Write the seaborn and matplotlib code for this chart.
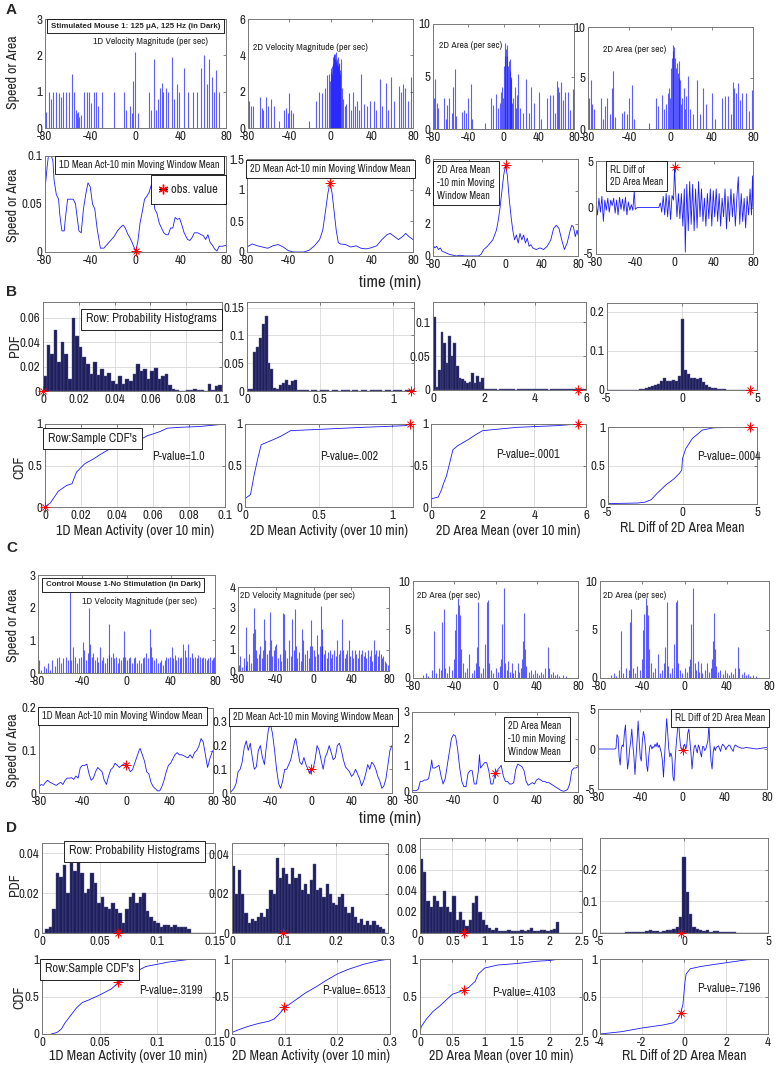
import numpy as np
import pandas as pd
import matplotlib
matplotlib.use('Agg')
import matplotlib.pyplot as plt
from matplotlib import font_manager
from matplotlib.lines import Line2D
from matplotlib.ticker import FormatStrFormatter
import seaborn as sns

W, H = 776, 1066
BLUE = '#1a1aff'
NAVY = '#1f1f5e'

# ---------------- data ----------------
# panel A, per-second traces: (time min, value)
a_vel1 = [(-79, 0.45), (-76.5, 1.0), (-75, 0.8), (-72.5, 1.0), (-70, 1.0), (-67.5, 0.95), (-65.5, 0.85),
          (-64, 1.0), (-61, 1.0), (-59, 1.0), (-56.5, 1.5), (-54.5, 1.0), (-53, 0.5), (-52, 0.4), (-51, 0.45),
          (-50, 0.3), (-48.5, 0.35), (-45.5, 1.0), (-43, 1.0), (-41, 1.0), (-39, 0.7), (-37, 1.0), (-34.5, 1.0),
          (-33, 0.6), (-30, 1.0), (-19, 1.0), (-10, 1.0), (-8, 0.5), (-5, 0.6), (-3, 0.4), (-2.3, 1.3),
          (-0.3, 2.1), (2, 0.4), (11.5, 1.0), (13.5, 0.5), (16, 1.9), (18, 0.5), (20, 0.8), (21.8, 1.1),
          (23.2, 1.25), (24.7, 1.0), (27, 1.1), (29, 1.0), (32, 1.95), (34, 0.8), (36.4, 1.2), (38.8, 1.0),
          (43.2, 1.65), (46.7, 1.0), (50.5, 1.0), (54, 1.0), (57.5, 1.65), (60.4, 2.0), (62.8, 1.2),
          (64.8, 1.9), (67.2, 1.4), (69.2, 1.0), (71.6, 1.6), (74, 1.0)]
a_vel2 = [(-79, 1.5), (-77.5, 1.2), (-75, 1.2), (-68, 1.7), (-66.5, 1.1), (-65, 1.0), (-63, 1.7), (-61, 1.2),
          (-58, 1.6), (-55, 1.2), (-50, 0.4), (-45, 1.0), (-43, 1.1), (-41.5, 0.8), (-40, 1.9), (-38, 1.0),
          (-36, 0.8), (-21, 0.4), (-14, 1.5), (-11, 2.0), (-8, 1.9), (-5, 2.2), (-3, 2.9), (-1, 3.0),
          (-0.5, 2.6), (0, 3.3), (0.5, 3.1), (1, 3.0), (1.5, 3.4), (2, 3.6), (2.5, 3.9), (3, 4.1), (3.5, 4.0),
          (4, 3.8), (4.5, 4.1), (5, 4.2), (5.5, 3.7), (6, 3.5), (6.5, 3.8), (7, 3.9), (7.5, 3.4), (8, 3.6),
          (8.5, 3.5), (9, 3.2), (9.5, 3.0), (10, 3.8), (11, 2.2), (12, 1.6), (14, 1.2), (15, 1.3), (18, 1.9),
          (20, 1.0), (22, 2.0), (24, 1.2), (26, 1.5), (28, 1.0), (30, 3.0), (32, 1.3), (35, 1.2), (38, 1.5),
          (42, 1.5), (44, 1.0), (48, 2.7), (50, 1.2), (54, 2.5), (56, 1.0), (59, 2.8), (62, 1.5), (66, 2.3),
          (68, 2.0), (70, 2.4), (72, 2.2), (75, 1.5), (78, 2.8)]
a_area = [(-79, 3.0), (-77.5, 4.8), (-76, 2.5), (-74, 2.0), (-67, 3.0), (-65, 1.0), (-64, 2.3), (-62, 3.0),
          (-59, 1.5), (-57, 4.0), (-55.4, 5.7), (-54, 1.2), (-47, 1.6), (-45, 1.8), (-42, 1.5), (-40, 3.0),
          (-37, 4.3), (-35.5, 1.0), (-21, 0.6), (-14, 3.0), (-12, 2.3), (-8, 3.3), (-6, 2.0), (-4, 2.5),
          (-2.5, 3.5), (-1.5, 4.0), (-0.5, 3.0), (0.5, 6.0), (1.2, 7.0), (2, 8.2), (2.8, 7.6), (3.5, 8.0),
          (4.5, 7.0), (5.2, 6.0), (6, 6.5), (7, 5.5), (7.8, 6.7), (8.5, 5.0), (9, 4.8), (10, 2.5), (11, 3.0),
          (12.8, 4.0), (14.5, 2.0), (15.5, 3.2), (16.6, 5.2), (18.5, 2.0), (22, 1.5), (26, 4.8), (28.5, 1.5),
          (31.7, 4.0), (34.5, 2.5), (40, 3.5), (43, 1.0), (49.5, 3.0), (52.5, 3.2), (56, 3.2), (59, 1.5),
          (60.4, 4.6), (62, 4.0), (63.5, 3.5), (65.8, 4.5), (67.5, 2.8), (69.5, 3.5), (73, 3.5), (76, 1.8),
          (79, 3.8)]

# panel A, 10 min moving window means
a_mean1 = [(-80, 0.065), (-78, 0.09), (-77, 0.1), (-75, 0.102), (-73, 0.095), (-72, 0.075), (-70, 0.06),
           (-68, 0.055), (-67, 0.04), (-66, 0.03), (-65, 0.022), (-63, 0.022), (-62, 0.035), (-60, 0.055),
           (-57, 0.055), (-55, 0.055), (-53, 0.05), (-52, 0.04), (-50, 0.022), (-48, 0.02), (-46, 0.045),
           (-44, 0.06), (-42, 0.072), (-40, 0.068), (-38, 0.05), (-36, 0.045), (-34, 0.025), (-31, 0.004),
           (-28, 0.004), (-25, 0.008), (-22, 0.012), (-19, 0.016), (-16, 0.022), (-13, 0.026), (-11, 0.028),
           (-9, 0.025), (-7, 0.019), (-5, 0.015), (-3, 0.01), (-1, 0.004), (0, 0.001), (2, 0.01), (4, 0.03),
           (6, 0.042), (8, 0.055), (10, 0.058), (12, 0.062), (14, 0.07), (15, 0.068), (17, 0.045), (19, 0.04),
           (21, 0.03), (23, 0.025), (25, 0.02), (27, 0.018), (29, 0.018), (31, 0.025), (33, 0.025), (35, 0.036),
           (37, 0.034), (39, 0.035), (41, 0.028), (43, 0.02), (46, 0.013), (48, 0.012), (50, 0.015), (52, 0.02),
           (55, 0.02), (58, 0.018), (60, 0.017), (62, 0.013), (64, 0.018), (66, 0.01), (68, 0.007), (70, 0.003),
           (72, 0.001), (74, 0.006), (77, 0.006), (80, 0.007)]
a_mean2 = [(-80, 0.08), (-75, 0.13), (-70, 0.1), (-65, 0.08), (-60, 0.06), (-55, 0.1), (-50, 0.12), (-45, 0.08),
           (-40, 0.02), (-35, 0.0), (-30, 0.0), (-25, 0.0), (-20, 0.03), (-15, 0.1), (-10, 0.2), (-7, 0.35),
           (-4, 0.7), (-2, 0.95), (0, 1.12), (2, 0.95), (4, 0.65), (6, 0.35), (8, 0.15), (10, 0.13), (15, 0.12),
           (20, 0.08), (25, 0.1), (30, 0.06), (35, 0.05), (40, 0.07), (45, 0.1), (50, 0.2), (55, 0.28),
           (58, 0.3), (62, 0.25), (66, 0.2), (70, 0.25), (73, 0.3), (76, 0.25), (80, 0.2)]
a_mean_area = [(-80, 0.7), (-78, 0.5), (-76, 0.6), (-74, 0.4), (-72, 0.5), (-70, 0.3), (-66, 0.2), (-62, 0.1),
               (-58, 0.05), (-54, 0.0), (-50, 0.05), (-45, 0.0), (-40, 0.0), (-35, 0.0), (-30, 0.0), (-27, 0.1),
               (-24, 0.4), (-20, 0.6), (-17, 0.8), (-14, 1.0), (-12, 1.3), (-10, 1.6), (-8, 2.2), (-6, 3.0),
               (-4, 4.0), (-2, 5.0), (0, 5.6), (2, 5.0), (4, 3.6), (6, 2.5), (8, 1.6), (10, 1.0), (12, 1.3),
               (14, 0.8), (16, 1.4), (18, 1.0), (20, 1.3), (22, 0.8), (24, 1.1), (26, 0.6), (28, 0.7), (30, 0.5),
               (34, 0.4), (38, 0.5), (42, 0.4), (46, 0.6), (50, 1.0), (53, 1.7), (56, 1.9), (59, 1.7), (62, 1.0),
               (65, 0.4), (68, 0.8), (71, 1.5), (73, 1.9), (75, 1.8), (77, 1.2), (79, 1.6), (80, 1.3)]
a_rldiff = [(-80, 0.5), (-78.5, -0.8), (-77, 1.0), (-75.5, -0.5), (-74, 1.2), (-72.5, -1.5), (-71, 0.8),
            (-69.5, -0.3), (-68, 1.0), (-66.5, -0.5), (-65, 0.8), (-63.5, 0.2), (-62, 1.0), (-60.5, -0.6),
            (-59, 0.8), (-57.5, -0.8), (-56, 1.1), (-54.5, -0.2), (-53, 0.9), (-51.5, -0.4), (-50, 1.1),
            (-48.5, -0.8), (-47, 0.6), (-45.5, -0.3), (-44, 0.3), (-42.5, -0.3), (-41, 1.8), (-40, -0.2),
            (-38, 0.0), (-16, 0.0), (-14.5, 0.5), (-13, -0.5), (-11.5, 1.2), (-10, -0.8), (-8.5, 1.5), (-7, -1.0),
            (-5.5, 1.3), (-4, -1.3), (-2.5, 1.3), (-1, 0.8), (0, 4.3), (1, 2.0), (2.5, -1.0), (4, 1.5),
            (5.5, -1.2), (7, 1.5), (8.5, -2.0), (10, 2.0), (11, -4.8), (12.5, 2.5), (14, -2.5), (15.5, 2.8),
            (17, -1.8), (18.5, 2.5), (20, -2.5), (21.5, 2.0), (23, -2.2), (24.5, 2.8), (26, -1.0), (27.5, 2.0),
            (29, -1.5), (30.5, 1.0), (32, -2.0), (33.5, 1.5), (35, -1.2), (36.5, 2.0), (38, -2.0), (39.5, 1.8),
            (41, -1.0), (42.5, 2.0), (44, -1.5), (45.5, 1.5), (47, -2.0), (48.5, 1.0), (50, -1.0), (51.5, 2.0),
            (53, -2.3), (54.5, 1.2), (56, -1.5), (57.5, 2.0), (59, -1.0), (60.5, 1.5), (62, -2.0), (63.5, 1.0),
            (65, 3.3), (66.5, -1.8), (68, 1.5), (69.5, -1.5), (71, 1.0), (72.5, -2.2), (74, 1.2), (75.5, -0.8),
            (77, 2.0), (78.5, -0.8), (79.5, 3.4), (80, 0.0)]
a_obs = [(0, 0.001), (0, 1.12), (0, 5.6), (0, 4.4)]

# panel B, probability histograms (bin heights)
b_hist1 = [0.012, 0.038, 0.030, 0.050, 0.024, 0.040, 0.030, 0.010, 0.060, 0.045,
           0.036, 0.028, 0.022, 0.014, 0.024, 0.013, 0.018, 0.012, 0.015, 0.008,
           0.006, 0.012, 0.006, 0.010, 0.008, 0.014, 0.022, 0.016, 0.018, 0.010,
           0.016, 0.019, 0.010, 0.012, 0.014, 0.005, 0.002, 0.001, 0.000, 0.000,
           0.001, 0.001, 0.002, 0.001, 0.001, 0.000, 0.006, 0.001, 0.004, 0.005]
b_hist2 = [0.003, 0.003, 0.07, 0.08, 0.095, 0.12, 0.135, 0.05, 0.04, 0.005,
           0.004, 0.01, 0.015, 0.02, 0.01, 0.018, 0.02, 0.002, 0.001, 0.001,
           0.001, 0.0, 0.001, 0.001, 0.0, 0.001, 0.001, 0.001, 0.0, 0.001,
           0.001, 0.0, 0.001, 0.001, 0.001, 0.0, 0.001, 0.001, 0.0, 0.001,
           0.001, 0.0, 0.001, 0.001, 0.001, 0.001, 0.0, 0.001, 0.001, 0.0,
           0.001, 0.001, 0.001, 0.0, 0.001, 0.001, 0.001]
b_hist3 = [0.108, 0.005, 0.03, 0.085, 0.07, 0.04, 0.08, 0.05, 0.07, 0.035,
           0.018, 0.016, 0.014, 0.01, 0.012, 0.025, 0.01, 0.02, 0.012, 0.017,
           0.002, 0.001, 0.001, 0.001, 0.001, 0.0, 0.001, 0.001, 0.001, 0.001,
           0.001, 0.001, 0.0, 0.001, 0.001, 0.001, 0.001, 0.001, 0.002, 0.002,
           0.002, 0.001, 0.001, 0.001, 0.001, 0.0, 0.001, 0.001, 0.001, 0.001,
           0.001, 0.001, 0.002, 0.002, 0.001, 0.001, 0.001, 0.001, 0.001, 0.001]
b_hist4 = [0.001, 0.001, 0.001, 0.001, 0.001, 0.001, 0.001, 0.001, 0.001, 0.001,
           0.001, 0.002, 0.002, 0.004, 0.008, 0.01, 0.012, 0.016, 0.022, 0.03,
           0.024, 0.022, 0.026, 0.024, 0.036, 0.18, 0.05, 0.04, 0.03, 0.03,
           0.028, 0.03, 0.02, 0.014, 0.008, 0.005, 0.004, 0.003, 0.002, 0.002,
           0.001, 0.001, 0.001, 0.001, 0.001, 0.001, 0.001, 0.001, 0.0, 0.0, 0.0]
# panel B, sample CDFs: (x, F)
b_cdf1 = [(0, 0.0), (0.003, 0.05), (0.0074, 0.19), (0.012, 0.26), (0.015, 0.28), (0.0175, 0.42), (0.022, 0.52),
          (0.027, 0.58), (0.0305, 0.63), (0.036, 0.7), (0.0416, 0.72), (0.049, 0.78), (0.0536, 0.82),
          (0.057, 0.86), (0.06, 0.88), (0.064, 0.91), (0.068, 0.95), (0.075, 0.96), (0.086, 0.97), (0.1, 1.0)]
b_cdf2 = [(0, 0.1), (0.0375, 0.15), (0.0625, 0.39), (0.0875, 0.59), (0.11, 0.75), (0.15, 0.78), (0.19, 0.81),
          (0.24, 0.85), (0.31, 0.92), (0.5, 0.935), (0.8, 0.96), (1.09, 0.98), (1.12, 1.0)]
b_cdf3 = [(0, 0.0), (0.03, 0.1), (0.28, 0.12), (0.41, 0.21), (0.47, 0.27), (0.6, 0.375), (0.73, 0.54),
          (0.85, 0.69), (1.04, 0.74), (1.43, 0.81), (1.75, 0.875), (2.0, 0.92), (3.34, 0.96), (4.87, 0.98),
          (5.7, 1.0)]
b_cdf4 = [(-5, 0.005), (-3, 0.013), (-2.5, 0.025), (-2.1, 0.056), (-1.7, 0.14), (-1.1, 0.25), (-0.55, 0.33),
          (-0.2, 0.4), (-0.05, 0.44), (0, 0.59), (0.22, 0.72), (0.66, 0.85), (1.33, 0.96), (2.1, 0.99),
          (5, 1.0)]
b_obs = [0.0, 1.12, 5.7, 4.5]
b_pvals = ['P-value=1.0', 'P-value=.002', 'P-value=.0001', 'P-value=.0004']

# panel C, per-second traces
c_vel1 = [(-79, 0.4), (-77, 0.1), (-75, 0.2), (-73, 0.15), (-71, 0.3), (-69, 0.1), (-67, 0.4), (-65, 0.2),
          (-63, 0.45), (-61, 0.5), (-59, 0.3), (-57, 0.45), (-55, 0.5), (-53, 0.4), (-51.5, 2.5), (-50, 0.4),
          (-48, 0.8), (-46.5, 0.5), (-45, 0.3), (-43, 0.45), (-41, 0.5), (-39.5, 0.95), (-38, 0.7),
          (-36.5, 0.4), (-35, 0.6), (-34, 2.0), (-33, 0.9), (-31.5, 0.5), (-30, 0.6), (-28.5, 0.4), (-27, 0.5),
          (-25.5, 0.35), (-24, 0.8), (-22.5, 0.4), (-21, 0.5), (-19.5, 0.3), (-18, 0.45), (-16, 0.55),
          (-15.5, 1.5), (-14, 0.5), (-12.5, 0.6), (-11, 0.45), (-9.5, 0.5), (-8, 0.3), (-6.5, 0.45), (-5, 0.4),
          (-3.5, 0.5), (-2, 1.3), (-1, 0.5), (0.5, 0.4), (2, 0.45), (3.5, 0.5), (5, 0.3), (6.5, 0.45), (8, 0.5),
          (9.5, 0.3), (11, 0.4), (13, 0.3), (14.5, 0.45), (16, 0.5), (17.5, 0.6), (19, 0.45), (21, 1.35),
          (22, 0.8), (23.5, 0.5), (25, 0.4), (27, 0.45), (28.5, 0.3), (30, 0.35), (31.5, 0.4), (33, 0.25),
          (34.5, 0.4), (36, 0.5), (37.5, 0.45), (39, 0.5), (40.7, 0.8), (42, 0.45), (43.5, 0.55), (45, 0.4),
          (46.5, 0.5), (48, 0.45), (49.5, 0.5), (51, 0.9), (52.5, 0.7), (54, 0.5), (56, 0.9), (57.5, 0.5),
          (59, 0.6), (60.5, 0.45), (62, 0.5), (63.5, 0.45), (65, 0.55), (66.5, 0.5), (68, 0.45), (69.5, 0.5),
          (71, 0.45), (72.5, 0.4), (74, 0.45), (75.5, 0.5), (77, 0.4), (78.5, 0.45), (79.5, 0.5)]
c_vel2 = [(-79, 0.3), (-78, 0.7), (-76, 0.2), (-74, 0.6), (-72, 0.3), (-71, 2.1), (-70, 0.5), (-68, 0.8),
          (-66, 0.4), (-64, 1.8), (-63, 3.0), (-62, 2.0), (-61, 1.0), (-60, 0.6), (-58, 0.8), (-57, 1.2),
          (-55, 0.6), (-53, 1.0), (-52, 2.5), (-51, 1.5), (-49, 0.8), (-47.5, 1.0), (-46.5, 2.8), (-45.5, 1.5),
          (-44, 0.7), (-42, 1.0), (-41, 1.2), (-40, 1.3), (-38, 0.6), (-36, 0.8), (-34, 0.5), (-32, 2.75),
          (-31, 2.7), (-30, 1.0), (-28, 0.6), (-26, 1.5), (-24, 0.7), (-22.5, 2.5), (-21, 1.0), (-19.8, 2.95),
          (-18.5, 1.2), (-17, 0.6), (-15, 0.9), (-13, 0.5), (-12, 2.0), (-11, 1.5), (-9, 0.8), (-6.7, 1.0),
          (-5, 0.6), (-3.5, 1.2), (-2.5, 2.45), (-1.5, 1.2), (0, 1.0), (1.5, 0.7), (3.4, 1.7), (5, 0.8),
          (6.5, 1.2), (7.5, 3.1), (8.5, 2.0), (9.5, 1.2), (11, 0.8), (12.5, 1.0), (14, 0.6), (15.5, 0.9),
          (17, 1.0), (18.5, 0.6), (20, 0.8), (22, 1.0), (23.5, 0.7), (25, 1.5), (27, 0.8), (28.5, 1.0),
          (30, 2.5), (31, 1.0), (33, 0.6), (34.5, 0.8), (36, 1.0), (37.7, 1.5), (39, 0.7), (40.5, 1.0),
          (42, 0.6), (44, 1.0), (45.5, 0.8), (47, 0.6), (48.5, 1.0), (50, 0.8), (51.5, 1.0), (53, 0.7),
          (54.5, 0.9), (56, 0.6), (58, 1.0), (59.5, 0.7), (61, 1.0), (62.5, 0.5), (64, 1.5), (65, 0.8),
          (66.5, 1.0), (68, 0.7), (69.5, 1.0), (71, 0.8), (72.5, 0.6), (74, 0.7), (75.5, 0.5), (77, 0.4),
          (78.5, 0.3)]
c_area = [(-70, 0.3), (-67, 0.5), (-65, 0.2), (-62, 0.8), (-60, 4.8), (-58, 0.5), (-55, 1.0), (-53, 0.8),
          (-52, 5.8), (-50.3, 7.1), (-49, 1.0), (-47, 0.5), (-45, 1.2), (-42, 0.8), (-40.5, 2.0), (-39.7, 5.0),
          (-38.4, 6.6), (-36.8, 8.2), (-35.8, 7.5), (-34.5, 6.5), (-33.5, 3.0), (-32, 1.5), (-30, 0.6),
          (-28, 1.0), (-25.5, 2.5), (-23, 0.5), (-21, 0.8), (-19, 1.5), (-18, 3.2), (-17, 7.8), (-16, 1.2),
          (-14, 0.5), (-12, 1.0), (-10, 3.5), (-8.4, 7.8), (-7.4, 8.0), (-6, 1.5), (-4, 0.8), (-2, 0.5),
          (0, 1.0), (2, 0.6), (4, 1.2), (5, 2.0), (6, 5.6), (8.4, 9.3), (9.5, 1.5), (11, 0.8), (12.6, 1.8),
          (14, 0.6), (15.8, 1.5), (17, 0.5), (19, 0.8), (21.6, 1.5), (23, 0.6), (25, 1.0), (26, 2.0),
          (27, 3.8), (28, 6.7), (28.7, 3.0), (30, 1.2), (32, 0.6), (34, 0.8), (36, 0.4), (38.4, 0.8),
          (40, 0.5), (42, 0.3), (44, 0.6), (46, 0.4), (48, 1.0), (50.6, 3.2), (52, 1.0), (54, 0.4), (56, 0.6),
          (58, 0.3), (60, 0.4), (62, 0.2), (65, 0.3), (68, 0.2)]

# panel C, moving window means
c_mean1 = [(-80, 0.015), (-78, 0.02), (-76, 0.018), (-74, 0.025), (-72, 0.03), (-70, 0.025), (-68, 0.023),
           (-66, 0.02), (-64, 0.018), (-62, 0.022), (-60, 0.025), (-58, 0.02), (-56, 0.03), (-54, 0.035),
           (-52, 0.035), (-50, 0.036), (-48, 0.032), (-46, 0.04), (-44, 0.035), (-42, 0.06), (-40, 0.065),
           (-38, 0.065), (-36, 0.068), (-34, 0.045), (-32, 0.03), (-30, 0.035), (-28, 0.05), (-26, 0.06),
           (-24, 0.055), (-22, 0.05), (-20, 0.03), (-18, 0.02), (-16, 0.04), (-14, 0.055), (-12, 0.06),
           (-10, 0.07), (-8, 0.065), (-6, 0.06), (-4, 0.065), (-2, 0.068), (0, 0.07), (2, 0.06), (4, 0.05),
           (6, 0.055), (8, 0.07), (10, 0.085), (12, 0.1), (13, 0.105), (15, 0.09), (17, 0.075), (19, 0.05),
           (21, 0.045), (23, 0.025), (25, 0.015), (27, 0.01), (29, 0.005), (31, 0.005), (33, 0.015),
           (35, 0.03), (37, 0.05), (39, 0.065), (41, 0.07), (43, 0.08), (45, 0.09), (47, 0.095), (49, 0.09),
           (51, 0.09), (53, 0.088), (55, 0.085), (57, 0.083), (59, 0.09), (61, 0.082), (63, 0.095), (65, 0.1),
           (67, 0.11), (69, 0.128), (71, 0.12), (73, 0.09), (75, 0.06), (77, 0.08), (79, 0.095), (80, 0.1)]
c_mean2 = [(-80, 0.0), (-78, 0.01), (-76, 0.02), (-74, 0.04), (-72, 0.09), (-70, 0.1), (-68, 0.13), (-66, 0.19),
           (-64, 0.22), (-62, 0.18), (-60, 0.21), (-58, 0.15), (-56, 0.1), (-54, 0.11), (-52, 0.18), (-50, 0.2),
           (-48, 0.15), (-46, 0.12), (-44, 0.2), (-42, 0.27), (-40, 0.29), (-38, 0.25), (-36, 0.18), (-34, 0.1),
           (-32, 0.04), (-30, 0.02), (-28, 0.05), (-26, 0.1), (-24, 0.1), (-22, 0.12), (-20, 0.14), (-18, 0.18),
           (-16, 0.22), (-15, 0.23), (-13, 0.18), (-11, 0.13), (-9, 0.12), (-7, 0.15), (-5, 0.12), (-3, 0.1),
           (-1, 0.08), (0, 0.1), (2, 0.1), (4, 0.14), (6, 0.2), (8, 0.18), (10, 0.14), (12, 0.1), (14, 0.15),
           (16, 0.17), (18, 0.2), (20, 0.17), (22, 0.14), (24, 0.15), (26, 0.2), (28, 0.21), (30, 0.18),
           (32, 0.14), (34, 0.11), (36, 0.1), (38, 0.09), (40, 0.07), (42, 0.08), (44, 0.1), (46, 0.08),
           (48, 0.06), (50, 0.03), (52, 0.05), (54, 0.08), (56, 0.12), (58, 0.1), (60, 0.13), (62, 0.12),
           (64, 0.1), (66, 0.07), (68, 0.05), (70, 0.02), (72, 0.03), (74, 0.06), (76, 0.12), (78, 0.18),
           (80, 0.2)]
c_mean_area = [(-80, 0.05), (-78, 0.05), (-76, 0.05), (-74, 0.1), (-72, 0.4), (-70, 0.4), (-68, 0.45),
               (-66, 0.45), (-64, 0.5), (-62, 0.9), (-61, 1.2), (-60, 0.9), (-58, 0.9), (-56, 0.95), (-54, 1.0),
               (-52, 0.6), (-50, 0.3), (-48, 0.5), (-46, 1.0), (-44, 1.5), (-42, 2.0), (-40, 2.15), (-38, 2.1),
               (-36, 1.6), (-34, 0.9), (-32, 0.4), (-30, 0.2), (-28, 0.2), (-26, 0.7), (-24, 0.8), (-22, 0.8),
               (-20, 0.3), (-18, 0.3), (-16, 0.8), (-15, 1.4), (-14, 0.9), (-12, 1.0), (-10, 1.1), (-8, 1.1),
               (-6, 0.8), (-4, 0.3), (-2, 0.3), (0, 0.7), (2, 0.8), (4, 0.9), (6, 1.0), (8, 0.6), (10, 0.4),
               (12, 0.4), (14, 0.3), (16, 0.3), (18, 0.35), (20, 0.85), (22, 1.05), (24, 1.0), (26, 0.95),
               (28, 0.8), (30, 0.4), (32, 0.25), (34, 0.3), (36, 0.35), (38, 0.3), (40, 0.45), (42, 0.5),
               (44, 0.45), (46, 0.4), (48, 0.4), (50, 0.35), (52, 0.35), (54, 0.3), (56, 0.25), (58, 0.2),
               (60, 0.15), (62, 0.1), (64, 0.05), (66, 0.03), (68, 0.05), (70, 0.1), (72, 0.3), (74, 0.8),
               (76, 0.9), (78, 0.9), (80, 0.95)]
c_rldiff = [(-80, 0.0), (-70, 0.0), (-64, 0.0), (-63, 0.1), (-62, 1.8), (-61, 1.5), (-60, -1.0), (-59, -2.0),
            (-58, 0.0), (-57, 0.5), (-56, 0.3), (-55, 2.0), (-54, 3.0), (-53, 0.0), (-52, -2.5), (-51, -1.5),
            (-50, 0.0), (-49, 1.0), (-48, 2.5), (-47, 0.5), (-46, -1.0), (-45, -3.2), (-44, -1.0), (-43, 1.0),
            (-42, 3.5), (-41, 1.0), (-40, -1.0), (-39, -1.5), (-38, 1.0), (-37, 2.2), (-36, 1.5), (-35, 0.2),
            (-34, -2.0), (-33, -2.8), (-32, -1.0), (-31, 0.3), (-30, 0.5), (-29, 0.0), (-28, 0.3), (-27, 0.2),
            (-26, 0.6), (-25, 0.3), (-24, 0.8), (-23, 0.2), (-22, 0.5), (-21, 0.0), (-20, -0.5), (-19, -1.5),
            (-18, -3.5), (-17, -1.0), (-16, 1.5), (-15, 3.8), (-14, 2.0), (-13, 0.0), (-12, -1.0), (-11, -0.5),
            (-10, -1.0), (-9, -3.5), (-8, -4.0), (-7, -1.5), (-6, 0.5), (-5, 2.0), (-4, 4.2), (-3, 2.0),
            (-2, 0.5), (-1, 0.0), (0, -0.2), (1, 0.3), (2, 0.6), (3, 0.0), (4, 0.5), (5, 2.0), (6, 2.5), (7, 1.0),
            (8, -0.5), (9, -2.5), (10, -1.0), (11, 0.2), (12, 0.5), (13, 0.0), (14, -0.5), (15, 0.5), (16, 0.2),
            (17, -0.5), (18, -1.0), (19, 0.3), (20, 0.3), (21, -0.2), (22, 0.0), (23, 0.5), (24, 1.0), (25, 3.0),
            (26, 0.5), (27, -1.5), (28, -2.5), (29, -0.5), (30, 0.3), (31, -0.2), (32, 0.2), (34, 0.4), (35, 0.1),
            (36, -0.3), (37, 0.3), (38, 0.6), (40, 0.3), (41, -0.1), (42, 0.2), (44, 0.5), (45, 0.4), (46, 0.1),
            (48, -0.3), (49, 0.3), (50, 0.5), (52, 0.3), (54, 0.2), (56, 0.1), (58, 0.1), (60, 0.2), (65, 0.1),
            (70, 0.0), (75, 0.1), (80, 0.2)]
c_obs = [(0, 0.067), (0, 0.1), (0, 0.7), (0, -0.1)]

# panel D, probability histograms
d_hist1 = [0.0, 0.002, 0.003, 0.012, 0.03, 0.028, 0.034, 0.02, 0.035, 0.031,
           0.037, 0.03, 0.02, 0.022, 0.03, 0.025, 0.015, 0.018, 0.013, 0.012,
           0.015, 0.012, 0.01, 0.005, 0.012, 0.018, 0.02, 0.015, 0.018, 0.02,
           0.011, 0.008, 0.006, 0.005, 0.003, 0.004, 0.004, 0.003, 0.004, 0.003,
           0.003, 0.003, 0.002, 0.0, 0.0, 0.0, 0.0, 0.0, 0.0, 0.0]
d_hist2 = [0.034, 0.02, 0.032, 0.02, 0.01, 0.005, 0.007, 0.006, 0.008, 0.01,
           0.008, 0.012, 0.022, 0.02, 0.038, 0.028, 0.033, 0.03, 0.025, 0.033,
           0.028, 0.03, 0.022, 0.025, 0.02, 0.027, 0.035, 0.022, 0.023, 0.018,
           0.025, 0.02, 0.015, 0.014, 0.018, 0.02, 0.013, 0.01, 0.013, 0.008,
           0.005, 0.007, 0.004, 0.006, 0.004, 0.006, 0.004, 0.003, 0.002, 0.0]
d_hist3 = [0.07, 0.058, 0.03, 0.025, 0.035, 0.03, 0.025, 0.04, 0.025, 0.02,
           0.035, 0.012, 0.02, 0.012, 0.007, 0.012, 0.028, 0.035, 0.02, 0.012,
           0.008, 0.005, 0.003, 0.005, 0.002, 0.002, 0.002, 0.003, 0.002, 0.002,
           0.002, 0.003, 0.002, 0.003, 0.005, 0.002, 0.002, 0.003, 0.003, 0.002,
           0.003, 0.004, 0.01, 0.0, 0.0, 0.0, 0.0, 0.0, 0.0, 0.0]
d_hist4 = [0.0, 0.0, 0.0, 0.0, 0.0, 0.0, 0.001, 0.001, 0.002, 0.002,
           0.004, 0.003, 0.004, 0.004, 0.005, 0.008, 0.006, 0.005, 0.004, 0.006,
           0.008, 0.01, 0.012, 0.02, 0.05, 0.24, 0.13, 0.06, 0.02, 0.012,
           0.01, 0.005, 0.008, 0.004, 0.006, 0.005, 0.004, 0.003, 0.003, 0.002,
           0.002, 0.001, 0.001, 0.0, 0.0, 0.0, 0.0, 0.0, 0.0, 0.0, 0.0]
d_cdf1 = [(0.008, 0.0), (0.013, 0.02), (0.017, 0.07), (0.02, 0.15), (0.025, 0.25), (0.03, 0.35), (0.035, 0.42),
          (0.04, 0.45), (0.05, 0.52), (0.06, 0.6), (0.066, 0.68), (0.075, 0.75), (0.08, 0.8), (0.085, 0.86),
          (0.09, 0.9), (0.1, 0.93), (0.11, 0.96), (0.12, 0.98), (0.13, 1.0)]
d_cdf2 = [(0, 0.02), (0.01, 0.05), (0.03, 0.1), (0.05, 0.14), (0.07, 0.17), (0.08, 0.2), (0.09, 0.27),
          (0.1, 0.35), (0.12, 0.45), (0.14, 0.55), (0.16, 0.63), (0.18, 0.72), (0.2, 0.8), (0.22, 0.86),
          (0.25, 0.93), (0.28, 0.98), (0.3, 1.0)]
d_cdf3 = [(0, 0.02), (0.02, 0.1), (0.1, 0.2), (0.2, 0.3), (0.3, 0.37), (0.4, 0.45), (0.5, 0.53), (0.6, 0.56),
          (0.68, 0.59), (0.75, 0.62), (0.85, 0.7), (0.9, 0.8), (1.0, 0.88), (1.2, 0.92), (1.5, 0.94),
          (1.8, 0.97), (2.0, 0.98), (2.15, 1.0)]
d_cdf4 = [(-4, 0.0), (-3, 0.03), (-2, 0.08), (-1, 0.12), (-0.5, 0.15), (-0.3, 0.2), (-0.15, 0.28),
          (-0.05, 0.4), (0, 0.55), (0.05, 0.7), (0.1, 0.8), (0.3, 0.87), (0.8, 0.9), (1.5, 0.93), (2, 0.95),
          (3, 0.99), (4, 1.0)]
d_obs = [(0.066, 0.69), (0.098, 0.36), (0.68, 0.59), (-0.15, 0.28)]
d_pvals = ['P-value=.3199', 'P-value=.6513', 'P-value=.4103', 'P-value=.7196']

xlabels = ['1D Mean Activity (over 10 min)', '2D Mean Activity (over 10 min)',
           '2D Area Mean (over 10 min)', 'RL Diff of 2D Area Mean']

# ---------------- style ----------------
sns.set_style('white')
# use a condensed face if one happens to be installed
narrow = sorted({f.name for f in font_manager.fontManager.ttflist
                 if 'Narrow' in f.name or 'Condensed' in f.name})
FAM = narrow[:1] + ['Liberation Sans', 'DejaVu Sans']
plt.rcParams['font.family'] = FAM
plt.rcParams['axes.unicode_minus'] = False
K = 1.0 if narrow else 0.82   # shrink text when only full-width faces exist
BOLD = ['Liberation Sans', 'DejaVu Sans']

fig = plt.figure(figsize=(W / 100, H / 100), dpi=100)


def new_ax(l, t, r, b):
    return fig.add_axes([l / W, 1 - b / H, (r - l) / W, (b - t) / H])


def finish(ax, xlim, ylim, xt, yt, grid=False):
    ax.set_xlim(xlim)
    ax.set_ylim(ylim)
    ax.set_xticks(xt)
    ax.set_yticks(yt)
    ax.xaxis.set_major_formatter(FormatStrFormatter('%g'))
    ax.yaxis.set_major_formatter(FormatStrFormatter('%g'))
    ax.set_xlabel('')
    ax.set_ylabel('')
    ax.tick_params(direction='in', top=True, right=True, length=2.5, width=0.5,
                   labelsize=9.3 * K, pad=2, color='#555555')
    for s in ax.spines.values():
        s.set_color('#777777')
        s.set_linewidth(0.7)
    if grid:
        ax.grid(True, color='#d8d8d8', lw=0.6)
        ax.set_axisbelow(True)
    else:
        ax.grid(False)


def spikes(ax, pairs):
    t, v = zip(*pairs)
    ax.vlines(t, 0, v, color=BLUE, lw=0.8, alpha=0.7)


def line(ax, pairs):
    df = pd.DataFrame(pairs, columns=['x', 'y'])
    sns.lineplot(data=df, x='x', y='y', ax=ax, color=BLUE, linewidth=0.6,
                 sort=False, estimator=None)


def hist(ax, lo, hi, heights):
    step = (hi - lo) / len(heights)
    centers = lo + step * (np.arange(len(heights)) + 0.5)
    df = pd.DataFrame({'c': centers, 'w': heights})
    sns.histplot(data=df, x='c', weights='w', bins=len(heights), binrange=(lo, hi), ax=ax,
                 color=NAVY, alpha=1, edgecolor='#55558a', linewidth=0.3)


def star(ax, x, y):
    ax.plot([x], [y], marker='+', color='red', ms=7, mew=0.7, clip_on=False, zorder=6)
    ax.plot([x], [y], marker='x', color='red', ms=5, mew=0.7, clip_on=False, zorder=6)


def ptext(x, y, s, size=6.5, box=False, ha='left', va='center', **kw):
    bb = dict(boxstyle='square,pad=0.4', fc='white', ec='black', lw=0.6) if box else None
    fig.text(x / W, 1 - y / H, s, fontsize=size * K, ha=ha, va=va, bbox=bb, zorder=10, **kw)


def title_box(x, y, s):
    # bold mouse caption, regular-width bold face shrunk to the reference width
    fig.text(x / W, 1 - y / H, s, fontsize=5.7, fontweight='bold', family=BOLD, va='center',
             bbox=dict(boxstyle='square,pad=0.45', fc='white', ec='black', lw=0.6), zorder=10)


TX = [-80, -40, 0, 40, 80]
TLIM = (-80, 80)

# ---------------- panel A ----------------
ax = new_ax(45, 19, 226, 128); spikes(ax, a_vel1); finish(ax, TLIM, (0, 3), TX, [0, 1, 2, 3])
ax = new_ax(248, 19, 413, 128); spikes(ax, a_vel2); finish(ax, TLIM, (0, 6), TX, [0, 2, 4, 6])
ax = new_ax(433, 24, 574, 129); spikes(ax, a_area); finish(ax, TLIM, (0, 10), TX, [0, 5, 10])
ax = new_ax(588, 27, 753, 129); spikes(ax, a_area); finish(ax, TLIM, (0, 10), TX, [0, 5, 10])

a_boxes = [(45, 156, 226, 252), (247, 159, 413, 252), (433, 159, 578, 256), (596, 161, 753, 254)]
a_lines = [a_mean1, a_mean2, a_mean_area, a_rldiff]
a_ylims = [(0, 0.1), (0, 1.5), (0, 6), (-5, 5)]
a_yt = [[0, 0.05, 0.1], [0, 0.5, 1, 1.5], [0, 2, 4, 6], [-5, 0, 5]]
for i in range(4):
    ax = new_ax(*a_boxes[i])
    line(ax, a_lines[i])
    star(ax, *a_obs[i])
    finish(ax, TLIM, a_ylims[i], TX, a_yt[i])
    if i == 0:
        h = Line2D([0], [0], color='black', lw=0.8, marker=(6, 2, 0), mec='red', ms=7)
        ax.legend([h], ['obs. value'], loc='upper right', bbox_to_anchor=(1.0, 0.80), fontsize=9 * K,
                  frameon=True, fancybox=False, edgecolor='black', handlelength=0.6,
                  handletextpad=0.3, borderpad=0.7, borderaxespad=0.0,
                  framealpha=1).get_frame().set_linewidth(0.6)

# ---------------- panel B ----------------
b_top = [(43, 302, 222, 391), (247, 302, 414, 391), (433, 302, 586, 390), (607, 303, 757, 390)]
b_bot = [(45, 424, 225, 507), (245, 424, 413, 507), (431, 424, 586, 507), (608, 427, 757, 504)]
b_hists = [(0, 0.1, b_hist1), (0, 1.14, b_hist2), (0, 6, b_hist3), (-5.1, 5.1, b_hist4)]
b_cdfs = [b_cdf1, b_cdf2, b_cdf3, b_cdf4]
b_xlims = [(0, 0.1), (0, 1.14), (0, 6), (-5, 5)]
b_xt = [[0, 0.02, 0.04, 0.06, 0.08, 0.1], [0, 0.5, 1], [0, 2, 4, 6], [-5, 0, 5]]
b_hy = [(0, 0.073), (0, 0.16), (0, 0.13), (0, 0.222)]
b_hyt = [[0, 0.02, 0.04, 0.06], [0, 0.05, 0.1, 0.15], [0, 0.05, 0.1], [0, 0.1, 0.2]]
for i in range(4):
    ax = new_ax(*b_top[i])
    hist(ax, *b_hists[i])
    star(ax, b_obs[i], 0)
    finish(ax, b_xlims[i], b_hy[i], b_xt[i], b_hyt[i], grid=True)
    ax = new_ax(*b_bot[i])
    line(ax, b_cdfs[i])
    star(ax, b_obs[i], 1.0 if i else 0.0)
    finish(ax, b_xlims[i], (0, 1), b_xt[i], [0, 0.5, 1], grid=True)
    ax.set_xlabel(xlabels[i], fontsize=10 * K, labelpad=2)

# ---------------- panel C ----------------
ax = new_ax(38, 575, 215, 673); spikes(ax, c_vel1); finish(ax, TLIM, (0, 3), TX, [0, 1, 2, 3])
ax = new_ax(238, 587, 389, 671); spikes(ax, c_vel2); finish(ax, TLIM, (0, 4), TX, [0, 1, 2, 3, 4])
ax = new_ax(413, 581, 578, 678); spikes(ax, c_area); finish(ax, TLIM, (0, 10), TX, [0, 5, 10])
ax = new_ax(600, 581, 769, 678); spikes(ax, c_area); finish(ax, TLIM, (0, 10), TX, [0, 5, 10])

c_boxes = [(39, 708, 213, 793), (230, 710, 392, 793), (412, 712, 578, 792), (598, 709, 767, 789)]
c_lines = [c_mean1, c_mean2, c_mean_area, c_rldiff]
c_ylims = [(0, 0.2), (0, 0.35), (0, 3), (-5, 5)]
c_yt = [[0, 0.1, 0.2], [0, 0.1, 0.2, 0.3], [0, 1, 2, 3], [-5, 0, 5]]
for i in range(4):
    ax = new_ax(*c_boxes[i])
    line(ax, c_lines[i])
    star(ax, *c_obs[i])
    finish(ax, TLIM, c_ylims[i], TX, c_yt[i])

# ---------------- panel D ----------------
d_top = [(42, 843, 215, 933), (232, 843, 388, 933), (420, 838, 582, 933), (600, 838, 768, 933)]
d_bot = [(42, 959, 215, 1034), (232, 959, 390, 1034), (420, 959, 582, 1034), (600, 959, 768, 1034)]
d_hists = [(0, 0.15, d_hist1), (0, 0.3, d_hist2), (0, 2.5, d_hist3), (-5.1, 5.1, d_hist4)]
d_cdfs = [d_cdf1, d_cdf2, d_cdf3, d_cdf4]
d_hx = [(0, 0.15), (0, 0.3), (0, 2.5), (-5, 5)]
d_cx = [(0, 0.15), (0, 0.3), (0, 2.5), (-4, 4)]
d_hxt = [[0, 0.05, 0.1, 0.15], [0, 0.1, 0.2, 0.3], [0, 0.5, 1, 1.5, 2, 2.5], [-5, 0, 5]]
d_cxt = [[0, 0.05, 0.1, 0.15], [0, 0.1, 0.2, 0.3], [0, 0.5, 1, 1.5, 2, 2.5], [-4, -2, 0, 2, 4]]
d_hy = [(0, 0.045), (0, 0.0456), (0, 0.09), (0, 0.3)]
d_hyt = [[0, 0.02, 0.04], [0, 0.02, 0.04], [0, 0.02, 0.04, 0.06, 0.08], [0, 0.1, 0.2]]
for i in range(4):
    ax = new_ax(*d_top[i])
    hist(ax, *d_hists[i])
    star(ax, d_obs[i][0], 0)
    finish(ax, d_hx[i], d_hy[i], d_hxt[i], d_hyt[i], grid=True)
    ax = new_ax(*d_bot[i])
    line(ax, d_cdfs[i])
    star(ax, *d_obs[i])
    finish(ax, d_cx[i], (0, 1), d_cxt[i], [0, 0.5, 1], grid=True)
    ax.set_xlabel(xlabels[i], fontsize=10 * K, labelpad=1)

# ---------------- annotations ----------------
for letter, y in [('A', 10), ('B', 292), ('C', 548), ('D', 828)]:
    fig.text(6 / W, 1 - y / H, letter, fontsize=11, fontweight='bold', va='center', family=BOLD)
for y in [72, 205, 625, 750]:
    ptext(13, y, 'Speed or Area', size=10, ha='center', rotation=90)
for y in [346, 885]:
    ptext(15, y, 'PDF', size=10, ha='center', rotation=90)
for y in [467, 997]:
    ptext(19, y, 'CDF', size=10, ha='center', rotation=90)
ptext(390, 283, 'time (min)', size=12, ha='center')
ptext(390, 818, 'time (min)', size=12, ha='center')

title_box(51, 26, 'Stimulated Mouse 1: 125 \u03bcA, 125 Hz (in Dark)')
ptext(93, 41, '1D Velocity Magnitude (per sec)', size=7)
ptext(253, 47, '2D Velocity Magnitude (per sec)', size=7)
ptext(439, 46, '2D Area (per sec)', size=7)
ptext(603, 50, '2D Area (per sec)', size=7)
ptext(59, 165, '1D Mean Act-10 min Moving Window Mean', size=7.3, box=True)
ptext(250, 169, '2D Mean Act-10 min Moving Window Mean', size=7.3, box=True)
ptext(437, 183, '2D Area Mean\n-10 min Moving\nWindow Mean', size=7.3, box=True, linespacing=1.35)
ptext(610, 176, 'RL Diff of\n2D Area Mean', size=7.3, box=True, linespacing=1.35)

ptext(86, 319, 'Row: Probability Histograms', size=9, box=True)
ptext(48, 438, "Row:Sample CDF's", size=9, box=True)
for x, y, s in zip([152, 320, 496, 697], [457, 457, 455, 456], b_pvals):
    ptext(x, y, s, size=8.6)

title_box(46, 585, 'Control Mouse 1-No Stimulation (in Dark)')
ptext(82, 601, '1D Velocity Magnitude (per sec)', size=7)
ptext(240, 596, '2D Velocity Magnitude (per sec)', size=7)
ptext(417, 596, '2D Area (per sec)', size=7)
ptext(603, 596, '2D Area (per sec)', size=7)
ptext(42, 716, '1D Mean Act-10 min Moving Window Mean', size=7.3, box=True)
ptext(233, 717, '2D Mean Act-10 min Moving Window Mean', size=7.3, box=True)
ptext(508, 739, '2D Area Mean\n-10 min Moving\nWindow Mean', size=7.3, box=True, linespacing=1.35)
ptext(675, 718, 'RL Diff of 2D Area Mean', size=7.3, box=True)

ptext(69, 851, 'Row: Probability Histograms', size=9, box=True)
ptext(45, 969, "Row:Sample CDF's", size=9, box=True)
for x, y, s in zip([139, 322, 492, 697], [990, 990, 992, 988], d_pvals):
    ptext(x, y, s, size=8.6)

fig.savefig('out.png', dpi=100, facecolor='white')
